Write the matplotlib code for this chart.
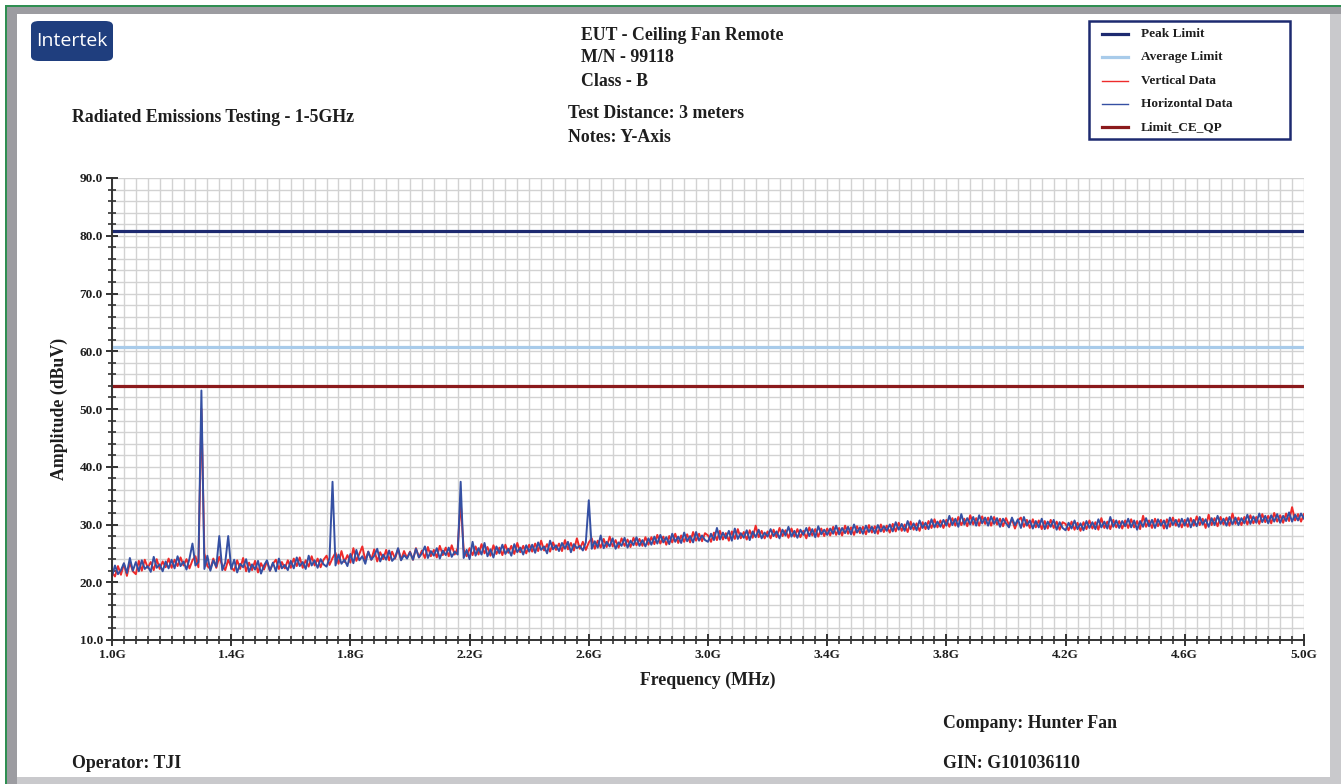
import numpy as np
import matplotlib.pyplot as plt
from matplotlib.patches import Rectangle, FancyBboxPatch
from matplotlib.lines import Line2D
from matplotlib.ticker import MultipleLocator, FixedLocator, FormatStrFormatter

W, H = 1341, 784

# Scan: 1.00 - 5.00 GHz, one reading every 10 MHz
freq_start, freq_step = 1.0, 0.01

# Horizontal polarization (dBuV)
horizontal = [
    21.0, 22.9, 21.4, 22.1, 23.3, 21.6, 24.2, 22.0, 23.5, 21.9, 23.8, 22.3, 22.8, 21.8, 24.4, 22.5, 23.1, 21.9, 23.6, 22.4,
    23.9, 22.4, 24.5, 22.8, 23.6, 22.2, 24.1, 26.7, 22.9, 23.5, 53.2, 22.3, 24.6, 22.0, 23.8, 22.7, 28.0, 22.1, 23.4, 28.0,
    22.3, 23.9, 21.7, 23.2, 22.6, 24.0, 21.8, 23.1, 22.2, 23.7, 21.5, 22.9, 23.8, 22.0, 23.4, 21.9, 24.1, 22.4, 23.0, 22.1,
    23.7, 22.4, 24.3, 22.8, 23.5, 22.3, 24.6, 22.9, 23.8, 22.5, 24.0, 23.1, 22.7, 24.2, 37.4, 22.9, 24.8, 23.2, 23.9, 22.8,
    24.9, 23.3, 25.6, 23.8, 24.5, 23.2, 25.3, 23.9, 24.6, 25.8, 23.6, 24.8, 23.9, 25.5, 23.7, 24.3, 25.9, 23.8, 24.7, 24.1,
    25.2, 23.9, 25.8, 24.3, 25.0, 26.2, 24.2, 25.4, 24.6, 25.9, 24.1, 25.5, 24.7, 26.0, 24.4, 25.3, 24.8, 37.4, 24.2, 25.6,
    24.0, 27.0, 24.6, 25.9, 24.8, 26.8, 24.5, 25.7, 24.3, 26.2, 25.0, 26.5, 24.9, 25.8, 24.6, 26.6, 25.2, 26.0, 24.8, 26.4,
    25.3, 26.5, 25.1, 26.9, 25.6, 26.2, 25.0, 27.2, 25.7, 26.4, 25.4, 26.8, 25.8, 27.0, 25.2, 26.6, 25.9, 26.3, 25.5, 26.9,
    34.2, 25.8, 27.1, 26.0, 28.1, 25.9, 27.0, 26.2, 27.6, 25.8, 26.9, 26.3, 27.7, 26.0, 27.2, 26.4, 27.8, 26.3, 27.3, 26.2,
    27.6, 26.5, 27.9, 26.7, 28.2, 26.9, 27.8, 26.6, 28.4, 27.0, 27.9, 26.8, 28.6, 27.1, 28.0, 26.9, 28.7, 27.2, 28.1, 27.3,
    27.0, 28.4, 27.3, 29.4, 27.4, 28.6, 27.6, 28.9, 27.2, 29.3, 27.5, 28.5, 27.7, 29.0, 27.3, 28.8, 27.8, 29.1, 27.6, 28.6,
    27.9, 29.2, 28.0, 28.8, 27.6, 29.1, 28.1, 29.6, 27.9, 28.9, 27.7, 29.1, 28.2, 29.4, 28.0, 29.2, 27.8, 29.7, 28.3, 29.1,
    28.2, 29.3, 28.4, 29.8, 28.3, 29.4, 28.5, 29.6, 28.3, 30.0, 28.6, 29.5, 28.4, 29.8, 28.7, 29.6, 28.5, 29.9, 28.8, 29.7,
    28.9, 30.0, 28.8, 30.4, 29.1, 30.1, 28.9, 30.6, 29.2, 30.2, 29.0, 30.7, 29.4, 30.3, 29.2, 30.9, 29.5, 30.5, 29.6, 30.8,
    29.8, 31.5, 29.9, 31.0, 29.6, 31.8, 30.0, 31.1, 30.0, 31.3, 29.8, 31.6, 30.2, 31.2, 29.8, 31.4, 30.1, 31.1, 29.6, 31.0,
    30.2, 29.5, 31.2, 29.9, 30.9, 29.4, 31.3, 29.8, 30.7, 29.3, 30.6, 29.5, 31.0, 29.2, 30.5, 29.6, 30.8, 29.1, 30.4, 29.4,
    29.0, 30.3, 29.3, 30.7, 29.2, 30.2, 29.0, 30.6, 29.4, 30.4, 29.2, 30.9, 29.5, 30.5, 29.3, 31.3, 29.6, 30.7, 29.4, 30.6,
    29.7, 31.0, 29.5, 30.7, 29.1, 30.6, 29.6, 31.1, 29.7, 30.8, 29.4, 30.9, 29.8, 30.7, 29.3, 31.2, 29.9, 30.8, 29.6, 31.0,
    29.8, 31.1, 29.5, 30.8, 29.7, 31.3, 30.0, 30.9, 29.6, 31.1, 29.9, 31.5, 30.1, 31.0, 29.8, 31.3, 30.0, 31.2, 29.9, 31.1,
    30.2, 31.7, 30.1, 31.4, 30.3, 31.9, 30.4, 31.5, 30.2, 31.6, 30.5, 31.8, 30.3, 31.5, 30.6, 32.1, 30.5, 31.7, 30.7, 31.9,
    31.0,
]

# Vertical polarization (dBuV)
vertical = [
    21.7, 21.0, 22.8, 21.3, 23.2, 21.1, 23.4, 21.9, 21.4, 23.7, 22.0, 23.9, 22.5, 23.5, 22.1, 24.0, 22.3, 23.6, 22.6, 24.1,
    22.5, 23.9, 22.8, 24.3, 22.9, 24.0, 22.4, 23.8, 24.5, 22.6, 50.0, 25.0, 22.8, 22.3, 24.1, 22.5, 24.4, 22.9, 22.1, 23.9,
    22.6, 22.0, 23.8, 22.3, 24.2, 21.9, 23.4, 22.1, 23.7, 21.7, 23.3, 22.2, 23.6, 22.0, 23.2, 23.9, 22.3, 23.5, 22.4, 23.8,
    22.5, 24.1, 22.8, 24.3, 22.5, 23.8, 22.7, 24.5, 22.9, 24.1, 22.6, 23.9, 24.6, 23.0, 24.2, 25.1, 23.2, 25.4, 23.5, 24.7,
    23.4, 25.9, 23.7, 24.9, 26.2, 23.8, 25.3, 23.9, 25.7, 23.6, 25.2, 24.0, 25.6, 23.8, 25.3, 24.1, 25.8, 23.9, 25.4, 24.2,
    25.3, 23.9, 25.9, 24.3, 25.5, 24.2, 26.1, 24.5, 25.6, 24.3, 26.3, 24.7, 26.0, 24.5, 26.4, 24.8, 25.9, 34.0, 25.7, 24.5,
    25.9, 24.7, 26.2, 24.8, 26.6, 25.0, 26.1, 24.6, 26.4, 24.9, 26.0, 24.7, 26.5, 25.1, 26.3, 24.9, 26.8, 25.2, 26.3, 25.0,
    26.5, 25.3, 26.7, 25.4, 27.2, 25.5, 26.6, 25.3, 26.9, 25.6, 26.7, 25.4, 27.3, 25.7, 26.8, 25.5, 27.6, 25.8, 27.0, 25.6,
    26.9, 27.6, 25.8, 27.2, 26.0, 27.5, 26.1, 27.9, 26.2, 27.3, 26.0, 27.6, 26.3, 27.4, 26.1, 27.7, 26.4, 27.5, 26.3, 27.8,
    26.5, 27.8, 26.6, 28.2, 26.7, 27.9, 26.5, 28.0, 26.9, 28.4, 26.8, 28.1, 27.0, 28.3, 26.9, 28.7, 27.2, 28.4, 27.1, 28.5,
    28.1, 27.0, 28.6, 27.3, 28.9, 27.4, 28.5, 27.2, 28.8, 27.5, 29.2, 27.6, 28.7, 27.4, 29.0, 27.7, 29.8, 27.8, 28.9, 27.6,
    28.8, 27.6, 29.1, 27.8, 29.4, 28.0, 29.0, 27.7, 29.3, 27.9, 29.2, 27.8, 28.9, 27.6, 29.5, 28.1, 29.2, 27.9, 29.3, 28.0,
    29.3, 28.1, 29.6, 28.2, 29.4, 28.1, 29.8, 28.4, 29.5, 28.2, 29.7, 28.5, 29.6, 28.3, 29.9, 28.6, 29.7, 28.4, 30.0, 28.7,
    29.8, 28.6, 30.1, 28.8, 30.3, 28.9, 30.0, 28.7, 30.5, 29.1, 30.2, 28.9, 30.4, 29.2, 30.6, 29.4, 30.9, 29.5, 30.7, 29.4,
    30.8, 29.6, 31.1, 29.8, 31.3, 29.9, 31.0, 29.7, 31.6, 30.0, 31.1, 29.8, 31.4, 30.1, 31.2, 29.8, 31.3, 30.0, 31.0, 29.7,
    31.1, 29.9, 30.9, 29.3, 30.7, 31.2, 29.6, 30.8, 29.4, 30.9, 29.5, 30.7, 29.2, 30.6, 29.3, 30.8, 29.4, 30.5, 29.1, 30.4,
    30.1, 29.0, 30.5, 29.1, 30.3, 28.9, 30.4, 29.2, 30.7, 29.3, 30.4, 29.1, 31.1, 29.4, 30.5, 29.2, 30.8, 29.5, 30.6, 29.3,
    30.7, 29.4, 30.9, 29.5, 30.6, 29.2, 31.5, 29.6, 30.7, 29.4, 31.0, 29.7, 30.8, 29.3, 30.9, 29.6, 31.2, 29.8, 30.9, 29.5,
    30.8, 29.6, 31.1, 29.8, 31.4, 29.9, 31.0, 29.4, 31.7, 29.9, 31.1, 29.7, 31.3, 30.0, 31.2, 29.8, 31.9, 30.1, 31.2, 29.9,
    31.3, 30.0, 31.6, 30.2, 31.3, 30.1, 31.8, 30.4, 31.5, 30.2, 32.0, 30.5, 31.6, 30.3, 31.9, 30.6, 33.0, 30.7, 31.8, 30.5,
    31.8,
]

peak_limit = 80.8
average_limit = 60.8
qp_limit = 54.0

x_ticks = [1.0, 1.4, 1.8, 2.2, 2.6, 3.0, 3.4, 3.8, 4.2, 4.6, 5.0]
y_ticks = [10, 20, 30, 40, 50, 60, 70, 80, 90]

freqs = np.round(freq_start + freq_step * np.arange(len(horizontal)), 2)

NAVY = '#1d2a70'
LIGHTBLUE = '#a8cbea'
RED = '#ee2b2b'
BLUE = '#3550a3'
DARKRED = '#8b1a1c'
INK = '#1e1e1e'
SERIF = 'Liberation Serif'


def fx(px):
    return px / W


def fy(py):
    return 1 - py / H


plt.rcParams['font.family'] = SERIF
plt.rcParams['font.weight'] = 'bold'

fig = plt.figure(figsize=(W / 100, H / 100), dpi=100)
fig.patch.set_facecolor('white')

# frame
fig.add_artist(Rectangle((fx(5), 0), fx(1.5), fy(6), transform=fig.transFigure, color='#2f8f52', lw=0))
fig.add_artist(Rectangle((fx(5), fy(7)), 1, 1.5 / H, transform=fig.transFigure, color='#2f8f52', lw=0))
fig.add_artist(Rectangle((fx(6.5), 0), fx(10.5), fy(7.5), transform=fig.transFigure, color='#9c9ca1', lw=0))
fig.add_artist(Rectangle((fx(6.5), fy(14)), 1, 6.5 / H, transform=fig.transFigure, color='#9c9ca1', lw=0))
fig.add_artist(Rectangle((fx(1330), 0), fx(11), fy(14), transform=fig.transFigure, color='#c9c9cc', lw=0))
fig.add_artist(Rectangle((fx(17), 0), 1, 7 / H, transform=fig.transFigure, color='#c9c9cc', lw=0))

ax = fig.add_axes([fx(112), fy(640), (1304 - 112) / W, (640 - 178) / H])

ax.plot(freqs, vertical, color=RED, lw=1.4, zorder=3)
ax.plot(freqs, horizontal, color=BLUE, lw=1.4, zorder=4)
ax.axhline(peak_limit, color=NAVY, lw=2.3, zorder=5)
ax.axhline(average_limit, color=LIGHTBLUE, lw=2.3, zorder=5)
ax.axhline(qp_limit, color=DARKRED, lw=2.3, zorder=5)

ax.set_xlim(1.0, 5.0)
ax.set_ylim(10, 90)
ax.xaxis.set_major_locator(FixedLocator(x_ticks))
ax.xaxis.set_minor_locator(MultipleLocator(0.04))
ax.yaxis.set_major_locator(FixedLocator(y_ticks))
ax.yaxis.set_minor_locator(MultipleLocator(2))
ax.xaxis.set_major_formatter(FormatStrFormatter('%.1fG'))
ax.yaxis.set_major_formatter(FormatStrFormatter('%.1f'))

ax.grid(which='both', color='#d2d2d2', lw=1.0, zorder=0)
ax.set_axisbelow(True)
for side in ['top', 'right']:
    ax.spines[side].set_visible(False)
for side in ['left', 'bottom']:
    ax.spines[side].set_color('#333333')
    ax.spines[side].set_linewidth(1.4)
    ax.spines[side].set_zorder(6)

ax.tick_params(which='major', direction='inout', length=9, width=1.4, color='#333333',
               labelsize=9.5, labelcolor=INK, pad=2)
ax.tick_params(which='minor', direction='inout', length=5.5, width=1.2, color='#333333')
for lab in ax.get_xticklabels() + ax.get_yticklabels():
    lab.set_fontweight('bold')

ax.set_xlabel('Frequency (MHz)', fontsize=12.8, fontweight='bold', color=INK, labelpad=8)
ax.set_ylabel('Amplitude (dBuV)', fontsize=12.8, fontweight='bold', color=INK, labelpad=8)

# header and footer text
txt = dict(fontsize=12.8, fontweight='bold', color=INK, va='center', ha='left')
fig.text(fx(72), fy(118), 'Radiated Emissions Testing - 1-5GHz', **txt)
fig.text(fx(581), fy(35), 'EUT - Ceiling Fan Remote', **txt)
fig.text(fx(581), fy(58), 'M/N - 99118', **txt)
fig.text(fx(581), fy(82), 'Class - B', **txt)
fig.text(fx(568), fy(113), 'Test Distance: 3 meters', **txt)
fig.text(fx(568), fy(137), 'Notes: Y-Axis', **txt)
fig.text(fx(943), fy(723), 'Company: Hunter Fan', **txt)
fig.text(fx(943), fy(763), 'GIN: G101036110', **txt)
fig.text(fx(72), fy(763), 'Operator: TJI', **txt)

# logo
fig.add_artist(FancyBboxPatch((fx(31), fy(61)), fx(82), 40 / H,
                              boxstyle='round,pad=0,rounding_size=0.006',
                              transform=fig.transFigure, color='#1f3e7e', lw=0))
fig.text(fx(72), fy(41), 'Intertek', family='Open Sans', fontweight='normal',
         fontsize=14, color='white', ha='center', va='center')

# legend
fig.add_artist(Rectangle((fx(1089), fy(139)), fx(201), 118 / H, transform=fig.transFigure,
                         facecolor='white', edgecolor=NAVY, lw=1.8))
legend_rows = [('Peak Limit', NAVY, 2.3), ('Average Limit', LIGHTBLUE, 2.3),
               ('Vertical Data', RED, 1.0), ('Horizontal Data', BLUE, 1.0),
               ('Limit_CE_QP', DARKRED, 2.3)]
row_y = [34, 57, 81, 104, 127]
for (label, color, lw), y in zip(legend_rows, row_y):
    fig.add_artist(Line2D([fx(1102), fx(1128)], [fy(y), fy(y)], color=color, lw=lw,
                          transform=fig.transFigure))
    fig.text(fx(1141), fy(y), label, fontsize=9.5, fontweight='bold', color=INK,
             va='center', ha='left')

fig.savefig('out.png', dpi=100)
